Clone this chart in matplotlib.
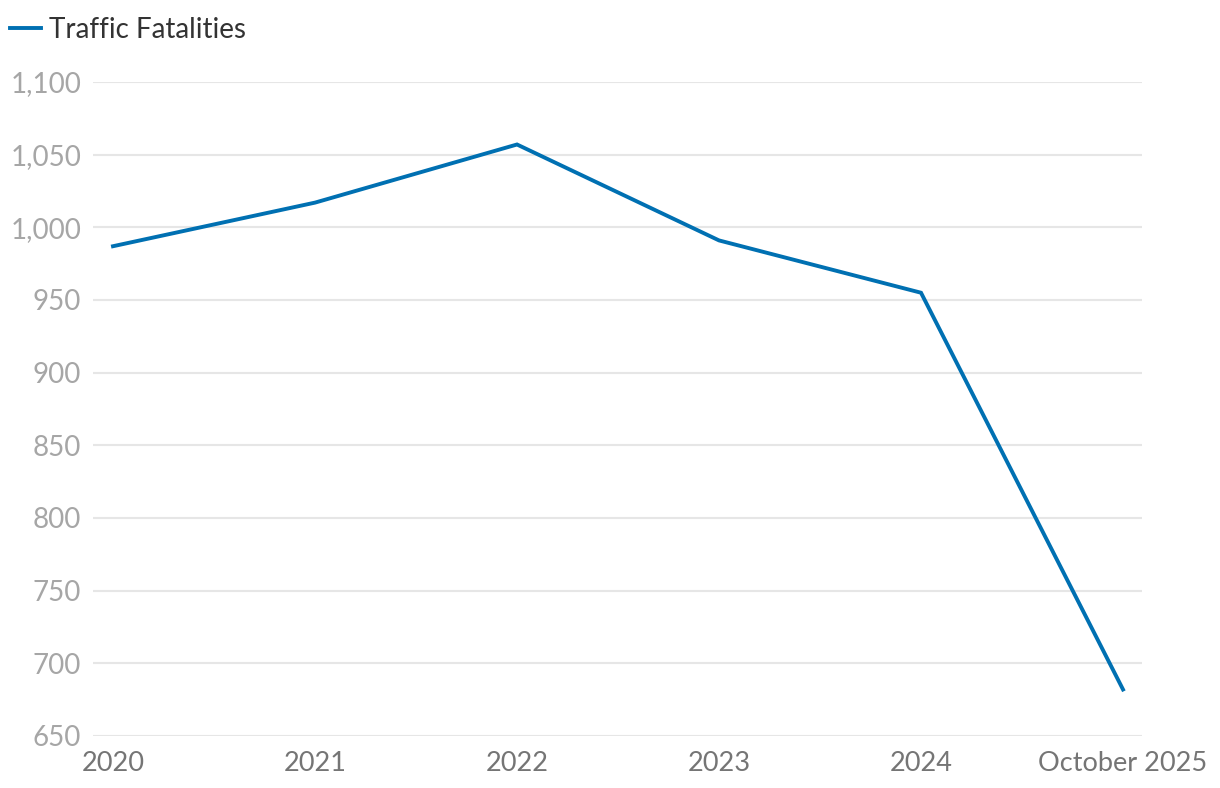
import matplotlib
matplotlib.use("Agg")
import matplotlib.pyplot as plt
from matplotlib.ticker import FuncFormatter

# data
periodos = ["2020", "2021", "2022", "2023", "2024", "October 2025"]
muertes = [987, 1017, 1057, 991, 955, 682]
y_ticks = [650, 700, 750, 800, 850, 900, 950, 1000, 1050, 1100]

plt.rcParams['font.family'] = ['Lato', 'DejaVu Sans']

fig = plt.figure(figsize=(12.2, 7.88), dpi=100)
ax = fig.add_axes([93 / 1220, 52 / 788, (1142 - 93) / 1220, (736 - 82) / 788])

x = list(range(len(periodos)))
ax.plot(x, muertes, color='#0070b2', linewidth=2.8, solid_joinstyle='miter',
        label='Traffic Fatalities', zorder=3)

ax.set_xlim(-0.099, len(periodos) - 1 + 0.094)
ax.set_ylim(650, 1100)
ax.set_yticks(y_ticks)
ax.yaxis.set_major_formatter(FuncFormatter(lambda v, p: f"{int(v):,}"))
ax.set_xticks(x)
ax.set_xticklabels(periodos)

ax.grid(axis='y', color='#e6e6e6', linewidth=1.5, zorder=0)
ax.grid(axis='x', visible=False)
for s in ax.spines.values():
    s.set_visible(False)
ax.tick_params(axis='y', length=0, pad=8.5, labelsize=20, labelcolor='#a6a6a6')
ax.tick_params(axis='x', length=0, pad=11, labelsize=19.5, labelcolor='#757575')

ax.legend(loc='upper left', bbox_to_anchor=(10 / 1220, 1 - 17 / 788),
          bbox_transform=fig.transFigure, frameon=False, fontsize=20,
          handlelength=1.1, handletextpad=0.3, borderpad=0, borderaxespad=0,
          labelcolor='#333333')

fig.savefig("out.png", dpi=100)
